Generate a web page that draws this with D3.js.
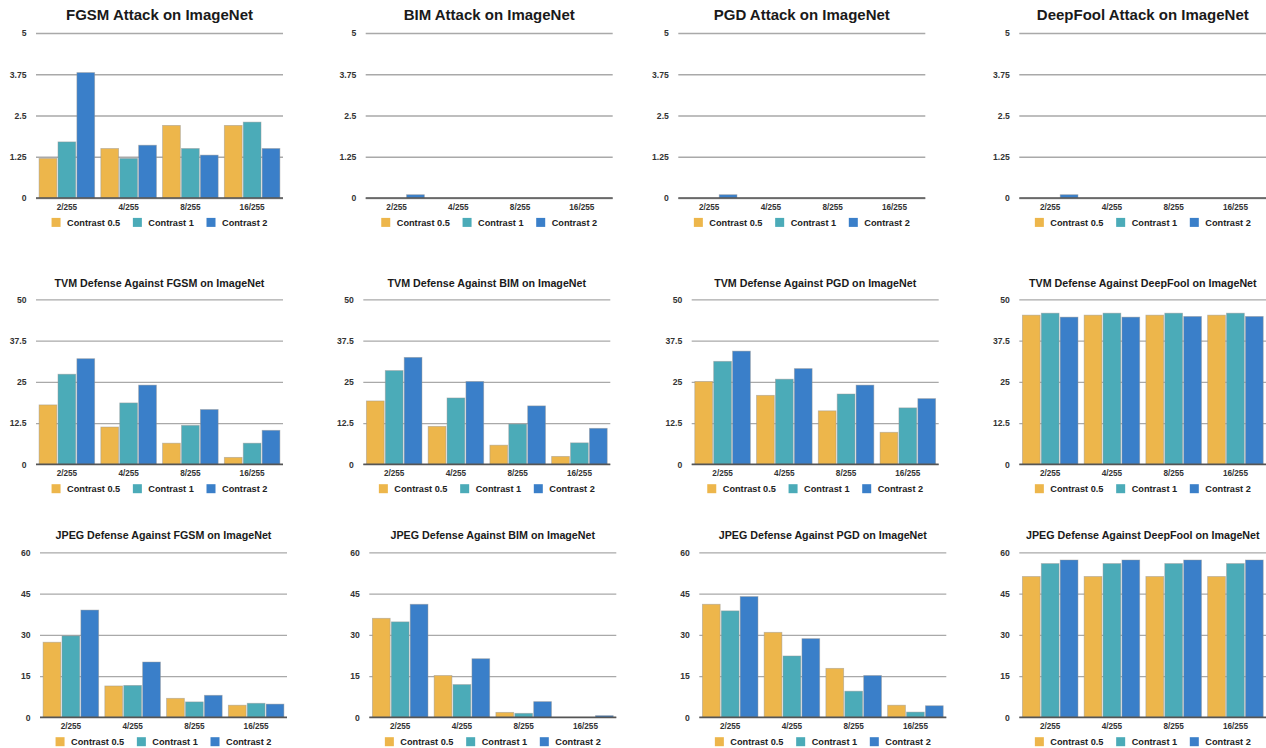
<!DOCTYPE html>
<html>
<head>
<meta charset="utf-8">
<script src="https://cdn.jsdelivr.net/npm/d3@7"></script>
<style>
  html, body { margin: 0; padding: 0; background: #fff; }
  svg text { font-family: "Liberation Sans", Arial, Helvetica, sans-serif; }
</style>
</head>
<body>
<svg id="chart" width="1266" height="748"></svg>
<script>
// Perturbation budgets (x categories) and contrast settings (series)
const categories = ["2/255", "4/255", "8/255", "16/255"];
const series = ["Contrast 0.5", "Contrast 1", "Contrast 2"];
const seriesColors = ["#EDB64B", "#4BABB8", "#3A7FC9"];

// Tick values for each row of panels
const ticksAttack = [0, 1.25, 2.5, 3.75, 5];
const ticksTvm = [0, 12.5, 25, 37.5, 50];
const ticksJpeg = [0, 15, 30, 45, 60];
const tickLabelsAttack = ["0", "1.25", "2.5", "3.75", "5"];
const tickLabelsTvm = ["0", "12.5", "25", "37.5", "50"];
const tickLabelsJpeg = ["0", "15", "30", "45", "60"];

// Values per category: [Contrast 0.5, Contrast 1, Contrast 2]
const fgsmAttack = [[1.2, 1.7, 3.8], [1.5, 1.2, 1.6], [2.2, 1.5, 1.3], [2.2, 2.3, 1.5]];
const bimAttack = [[0, 0, 0.1], [0, 0, 0], [0, 0, 0], [0, 0, 0]];
const pgdAttack = [[0, 0, 0.1], [0, 0, 0], [0, 0, 0], [0, 0, 0]];
const deepfoolAttack = [[0, 0, 0.1], [0, 0, 0], [0, 0, 0], [0, 0, 0]];

const tvmFgsm = [[18.0, 27.3, 32.0], [11.3, 18.6, 24.0], [6.4, 11.8, 16.6], [2.1, 6.4, 10.3]];
const tvmBim = [[19.2, 28.4, 32.4], [11.5, 20.1, 25.1], [5.8, 12.2, 17.7], [2.4, 6.5, 10.9]];
const tvmPgd = [[25.1, 31.2, 34.3], [20.9, 25.8, 29.0], [16.2, 21.3, 24.0], [9.7, 17.1, 19.9]];
const tvmDeepfool = [[45.2, 45.8, 44.6], [45.2, 45.8, 44.6], [45.2, 45.8, 44.8], [45.2, 45.8, 44.8]];

const jpegFgsm = [[27.3, 29.6, 39.0], [11.4, 11.6, 20.1], [6.9, 5.6, 8.0], [4.4, 5.1, 4.8]];
const jpegBim = [[36.0, 34.7, 41.1], [15.2, 11.9, 21.3], [1.8, 1.45, 5.7], [0, 0, 0.6]];
const jpegPgd = [[41.1, 38.7, 43.9], [30.9, 22.3, 28.6], [17.8, 9.5, 15.2], [4.4, 1.9, 4.2]];
const jpegDeepfool = [[51.2, 55.9, 57.2], [51.2, 55.9, 57.2], [51.2, 55.9, 57.2], [51.2, 55.9, 57.2]];

const titles = [
  "FGSM Attack on ImageNet", "BIM Attack on ImageNet", "PGD Attack on ImageNet", "DeepFool Attack on ImageNet",
  "TVM Defense Against FGSM on ImageNet", "TVM Defense Against BIM on ImageNet",
  "TVM Defense Against PGD on ImageNet", "TVM Defense Against DeepFool on ImageNet",
  "JPEG Defense Against FGSM on ImageNet", "JPEG Defense Against BIM on ImageNet",
  "JPEG Defense Against PGD on ImageNet", "JPEG Defense Against DeepFool on ImageNet"
];

// Panel layout (plot areas)
const rows = [
  { top: 33, base: 198, titleY: 20.2, titleSize: 15, ticks: ticksAttack, labels: tickLabelsAttack,
    xs: [36, 365.7, 678.3, 1019.3], data: [fgsmAttack, bimAttack, pgdAttack, deepfoolAttack] },
  { top: 299.3, base: 464.3, titleY: 287.2, titleSize: 10.7, ticks: ticksTvm, labels: tickLabelsTvm,
    xs: [36, 363.3, 691.7, 1019.3], data: [tvmFgsm, tvmBim, tvmPgd, tvmDeepfool] },
  { top: 552.3, base: 717.3, titleY: 539.4, titleSize: 10.7, ticks: ticksJpeg, labels: tickLabelsJpeg,
    xs: [40, 369.3, 699.3, 1019.3], data: [jpegFgsm, jpegBim, jpegPgd, jpegDeepfool] }
];
const plotW = 247;

const svg = d3.select("#chart");

rows.forEach((row, ri) => {
  row.xs.forEach((x0, ci) => {
    const values = row.data[ci];
    const g = svg.append("g");

    const x = d3.scaleBand().domain(categories).range([x0, x0 + plotW])
      .paddingInner(0.1).paddingOuter(0.05);
    const xs = d3.scaleBand().domain(series).range([0, x.bandwidth()])
      .paddingInner(0.06).paddingOuter(0);
    const y = d3.scaleLinear().domain([row.ticks[0], row.ticks[row.ticks.length - 1]])
      .range([row.base, row.top]);

    // Title
    g.append("text")
      .attr("x", x0 + plotW / 2).attr("y", row.titleY)
      .attr("text-anchor", "middle")
      .attr("font-size", row.titleSize).attr("font-weight", "bold")
      .attr("fill", "#1a1a1a")
      .text(titles[ri * 4 + ci]);

    // Horizontal gridlines with tick labels
    const yAxis = d3.axisLeft(y).tickValues(row.ticks)
      .tickSize(-plotW).tickPadding(9.5)
      .tickFormat((d, i) => row.labels[i]);
    const ya = g.append("g").attr("transform", `translate(${x0},0)`).call(yAxis);
    ya.select(".domain").remove();
    ya.selectAll(".tick line").attr("stroke", "#a9a9a9").attr("stroke-width", 1.3);
    ya.selectAll(".tick text")
      .attr("font-size", 8.6).attr("font-weight", "bold").attr("fill", "#333")
      .attr("font-family", "'Liberation Sans', Arial, sans-serif");

    // Bars
    const grp = g.append("g").selectAll("g").data(values).join("g")
      .attr("transform", (d, i) => `translate(${x(categories[i])},0)`);
    grp.selectAll("rect").data(d => d).join("rect")
      .attr("x", (d, i) => xs(series[i]))
      .attr("width", xs.bandwidth())
      .attr("y", d => y(d))
      .attr("height", d => Math.max(0, y(0) - y(d)))
      .attr("fill", (d, i) => seriesColors[i])
      .attr("stroke", "rgba(150,150,150,0.55)")
      .attr("stroke-width", d => d > 0 ? 0.8 : 0);

    // Baseline with category labels
    const xAxis = d3.axisBottom(x).tickSize(0).tickPadding(6);
    const xa = g.append("g").attr("transform", `translate(0,${row.base})`).call(xAxis);
    xa.select(".domain").attr("stroke", "#555").attr("stroke-width", 1.5)
      .attr("d", `M${x0},0H${x0 + plotW}`);
    xa.selectAll(".tick text")
      .attr("font-size", 8.2).attr("font-weight", "bold").attr("fill", "#333")
      .attr("font-family", "'Liberation Sans', Arial, sans-serif");

    // Legend, centred under the plot
    const legY = row.base + 24.4;
    const leg = g.append("g");
    let cx = 0;
    series.forEach((s, i) => {
      const item = leg.append("g").attr("transform", `translate(${cx},0)`);
      item.append("rect").attr("x", 0).attr("y", legY - 4.5).attr("width", 9).attr("height", 9)
        .attr("fill", seriesColors[i]);
      const t = item.append("text").attr("x", 15.5).attr("y", legY).attr("dy", "0.35em")
        .attr("font-size", 9.2).attr("font-weight", "bold").attr("fill", "#222").text(s);
      cx += 15.5 + t.node().getComputedTextLength() + 12.7;
    });
    const legW = cx - 12.7;
    leg.attr("transform", `translate(${x0 + plotW / 2 - legW / 2},0)`);
  });
});
</script>
</body>
</html>
